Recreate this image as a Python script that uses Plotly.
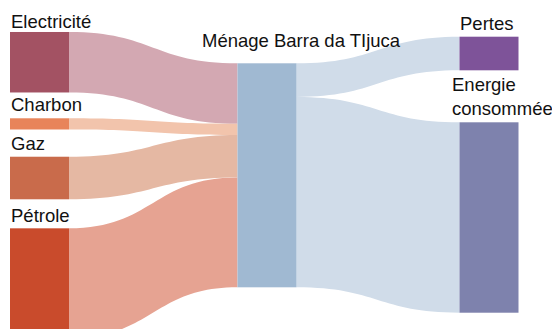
import plotly.graph_objects as go

# noeuds et flux (en % de l'energie du menage)
labels = ["Electricité", "Charbon", "Gaz", "Pétrole",
          "Ménage Barra da TIjuca", "Pertes", "Energie<br>consommée"]
sources = [0, 1, 2, 3, 4, 4]
targets = [4, 4, 4, 4, 5, 6]
values = [27, 5, 19, 49, 15, 85]

node_colors = ["#A35263", "#E8845A", "#C96B4B", "#C94B2C",
               "#A0B9D2", "#7E5399", "#7E82AD"]
link_colors = ["#D3A8B2", "#F2C4AC", "#E5B8A3", "#E6A392",
               "#D0DCE9", "#D0DCE9"]

# la page a une marge de 8px : la figure commence a (8, 8)
OFF = 8
W, H = 560, 329 - OFF
DH = 297  # hauteur du domaine en px (haut a 32px dans la page)

# positions des noeuds (centre), en px dans la page -> fraction
node_px = [39.5, 39.5, 39.5, 39.5, 267, 489, 489]
node_x = [(p - OFF) / W for p in node_px]
node_y = [0.1018, 0.3094, 0.4916, 0.8458, 0.4825, 0.0724, 0.6246]

# position des etiquettes (px dans la page, bord gauche / centre vertical)
label_pos = [(9, 21), (9, 105), (9, 143.5), (9, 215),
             (200, 40.5), (458, 23), (450, 97)]

fig = go.Figure(go.Sankey(
    arrangement="fixed",
    domain=dict(x=[0, 1], y=[0, DH / H]),
    node=dict(
        label=labels,
        color=node_colors,
        x=node_x,
        y=node_y,
        pad=24.33,
        thickness=59,
        line=dict(width=0),
    ),
    link=dict(source=sources, target=targets, value=values, color=link_colors),
    textfont=dict(color="rgba(0,0,0,0)", size=1),
))

for lab, (px, py) in zip(labels, label_pos):
    fig.add_annotation(
        text=lab, xref="paper", yref="paper",
        x=(px - OFF) / W, y=1 - (py - OFF) / H, xanchor="left", yanchor="middle",
        align="left", showarrow=False,
        font=dict(family="Liberation Sans, Arial, sans-serif", size=18.5, color="#111111"),
    )

fig.update_layout(
    width=W, height=H,
    margin=dict(l=0, r=0, t=0, b=0),
    paper_bgcolor="white",
)

fig.write_html("out.html")
